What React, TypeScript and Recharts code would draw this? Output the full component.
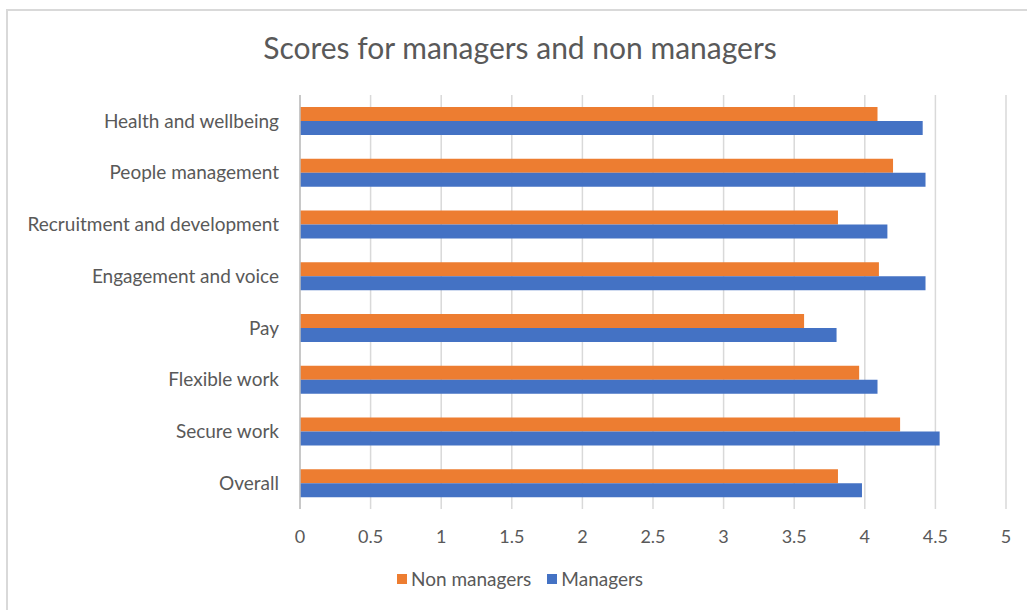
import { Bar, BarChart, CartesianGrid, XAxis, YAxis } from 'recharts';

const CATEGORIES = [
  'Health and wellbeing',
  'People management',
  'Recruitment and development',
  'Engagement and voice',
  'Pay',
  'Flexible work',
  'Secure work',
  'Overall',
];
const NON_MANAGERS = [4.09, 4.2, 3.81, 4.1, 3.57, 3.96, 4.25, 3.81];
const MANAGERS = [4.41, 4.43, 4.16, 4.43, 3.8, 4.09, 4.53, 3.98];
const X_TICKS = [0, 0.5, 1, 1.5, 2, 2.5, 3, 3.5, 4, 4.5, 5];

const SERIES = [
  { key: 'nonManagers', label: 'Non managers', color: '#ED7D31' },
  { key: 'managers', label: 'Managers', color: '#4472C4' },
] as const;

const FONT = 'Lato, "Open Sans", sans-serif';
const TEXT = '#595959';

const data = CATEGORIES.map((name, i) => ({
  name,
  nonManagers: NON_MANAGERS[i],
  managers: MANAGERS[i],
}));

export default function App() {
  return (
    <div
      style={{
        position: 'fixed',
        left: 0,
        top: 0,
        width: 1027,
        height: 610,
        overflow: 'hidden',
        background: '#fff',
        fontFamily: FONT,
      }}
    >
      {/* chart frame, only left and top edges show in the crop */}
      <div
        style={{
          position: 'absolute',
          left: 6,
          top: 9,
          width: 1100,
          height: 700,
          border: '2px solid #d9d9d9',
        }}
      />
      <div
        style={{
          position: 'absolute',
          left: 0,
          width: 1040,
          top: 29,
          textAlign: 'center',
          fontSize: 30,
          color: TEXT,
        }}
      >
        Scores for managers and non managers
      </div>
      <div style={{ position: 'absolute', left: 0, top: 0 }}>
        <BarChart
          width={1027}
          height={610}
          data={data}
          layout="vertical"
          margin={{ top: 95, right: 21, bottom: 71, left: 10 }}
          barCategoryGap="23%"
          barGap={0}
        >
          <CartesianGrid horizontal={false} stroke="#d9d9d9" strokeWidth={1.5} />
          <XAxis
            type="number"
            domain={[0, 5]}
            ticks={X_TICKS}
            axisLine={false}
            tickLine={false}
            tickMargin={15}
            tick={{ fill: TEXT, fontSize: 18, fontFamily: FONT }}
          />
          <YAxis
            type="category"
            dataKey="name"
            width={290}
            tickLine={false}
            axisLine={{ stroke: '#bfbfbf', strokeWidth: 1.5 }}
            tickMargin={15}
            tick={{ fill: TEXT, fontSize: 19, fontFamily: FONT }}
          />
          {SERIES.map((s) => (
            <Bar
              key={s.key}
              dataKey={s.key}
              name={s.label}
              fill={s.color}
              isAnimationActive={false}
            />
          ))}
        </BarChart>
      </div>
      <div
        style={{
          position: 'absolute',
          left: 0,
          width: 1040,
          top: 567,
          display: 'flex',
          justifyContent: 'center',
          gap: 16,
          fontSize: 19,
          color: TEXT,
        }}
      >
        {SERIES.map((s) => (
          <div key={s.key} style={{ display: 'flex', alignItems: 'center', gap: 4 }}>
            <span style={{ width: 10, height: 10, background: s.color, display: 'inline-block' }} />
            <span>{s.label}</span>
          </div>
        ))}
      </div>
    </div>
  );
}
